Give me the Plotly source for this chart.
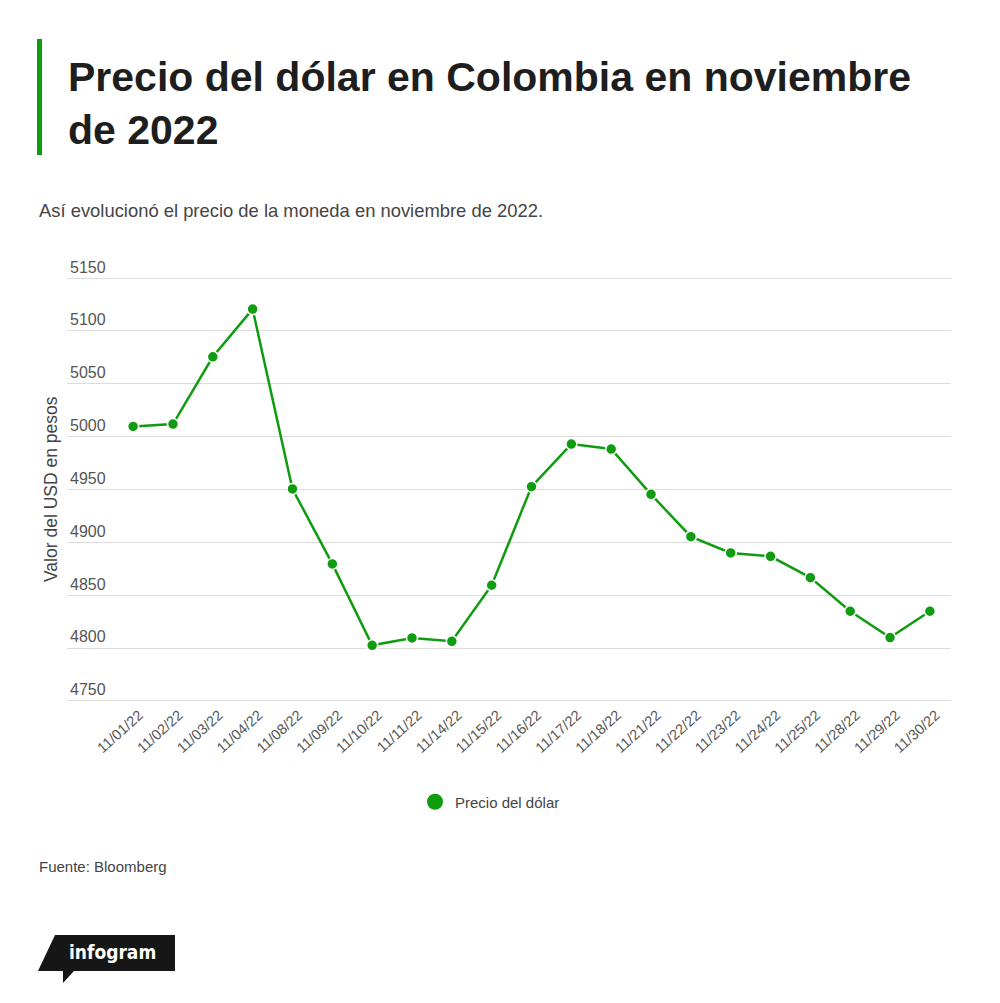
import plotly.graph_objects as go

# precio del dolar, noviembre 2022
fechas = ["11/01/22", "11/02/22", "11/03/22", "11/04/22", "11/08/22", "11/09/22",
          "11/10/22", "11/11/22", "11/14/22", "11/15/22", "11/16/22", "11/17/22",
          "11/18/22", "11/21/22", "11/22/22", "11/23/22", "11/24/22", "11/25/22",
          "11/28/22", "11/29/22", "11/30/22"]
precio = [5009.7, 5011.9, 5075.6, 5120.7, 4950.5, 4879.6, 4802.6, 4809.6, 4806.4,
          4859.4, 4952.7, 4993.0, 4988.3, 4945.4, 4905.4, 4890.0, 4886.8, 4866.6,
          4834.8, 4809.9, 4834.8]
y_ticks = [4750, 4800, 4850, 4900, 4950, 5000, 5050, 5100, 5150]

verde = "#109c10"
fuente = "Liberation Sans"

# la pagina tiene 8px de margen en el body, se descuenta
OFF = 8
W, H = 1000 - OFF, 1003 - OFF
# area de trazado en px de pantalla
PX0, PY0, PW, PH = 67, 703, 884, 446


def p(x, y):
    return (x - PX0) / PW, (PY0 - y) / PH


fig = go.Figure()

fig.add_trace(go.Scatter(
    x=fechas, y=precio, mode="lines+markers", showlegend=False,
    line=dict(color=verde, width=2.5),
    marker=dict(color=verde, size=11, line=dict(color="white", width=1.5)),
))
# solo para la leyenda (circulo)
fig.add_trace(go.Scatter(
    x=[None], y=[None], mode="markers", name="Precio del dólar",
    marker=dict(color=verde, size=16),
))

fig.update_layout(
    width=W, height=H,
    paper_bgcolor="white", plot_bgcolor="white",
    margin=dict(l=PX0 - OFF, r=W - (PX0 - OFF) - PW, t=PY0 - OFF - PH, b=H - (PY0 - OFF)),
    font=dict(family=fuente, color="#444"),
    showlegend=True,
    legend=dict(orientation="h", x=p(490, 0)[0], xanchor="center", y=p(0, 802)[1], yanchor="middle",
                font=dict(size=15, color="#444")),
)

fig.update_xaxes(
    type="category", range=[-1.66, 20.53], automargin=False,
    showgrid=False, zeroline=False, showline=False,
    tickangle=-42, tickfont=dict(size=14.5, color="#555"), ticklabelshift=6,
    ticks="", ticklen=0,
)
fig.update_yaxes(
    range=[4748, 5170], tickvals=y_ticks, automargin=False,
    showgrid=True, gridcolor="#dcdcdc", gridwidth=1,
    zeroline=False, showline=False,
    ticklabelposition="inside top", tickfont=dict(size=16, color="#555"),
)

fig.add_annotation(
    text="Valor del USD en pesos", textangle=-90,
    xref="paper", yref="paper", x=p(51, 0)[0], y=p(0, 489)[1], xanchor="center", yanchor="middle",
    showarrow=False, font=dict(family=fuente, size=17.5, color="#444"),
)

# barra verde del titulo
fig.add_shape(type="rect", xref="paper", yref="paper",
              x0=p(37, 0)[0], x1=p(42, 0)[0], y0=p(0, 39)[1], y1=p(0, 155)[1],
              fillcolor=verde, line=dict(width=0), layer="above")

fig.add_annotation(
    text="<b>Precio del dólar en Colombia en noviembre<br>de 2022</b>",
    xref="paper", yref="paper", x=p(66, 0)[0], y=p(0, 52)[1], xanchor="left", yanchor="top",
    align="left", showarrow=False,
    font=dict(family=fuente, size=41, color="#1e1e1e"),
)
fig.add_annotation(
    text="Así evolucionó el precio de la moneda en noviembre de 2022.",
    xref="paper", yref="paper", x=p(37, 0)[0], y=p(0, 210)[1], xanchor="left", yanchor="middle",
    showarrow=False, font=dict(family=fuente, size=18.4, color="#444"),
)
fig.add_annotation(
    text="Fuente: Bloomberg",
    xref="paper", yref="paper", x=p(37, 0)[0], y=p(0, 866)[1], xanchor="left", yanchor="middle",
    showarrow=False, font=dict(family=fuente, size=15, color="#444"),
)

# logo infogram
pts = [p(55, 935), p(175, 935), p(175, 971), p(74, 971), p(63, 983), p(63, 971), p(38, 971)]
path = "M " + " L ".join(f"{a},{b}" for a, b in pts) + " Z"
fig.add_shape(type="path", xref="paper", yref="paper", path=path,
              fillcolor="#161616", line=dict(width=0), layer="above")
fig.add_annotation(
    text="<b>infogram</b>", xref="paper", yref="paper",
    x=p(112, 0)[0], y=p(0, 952)[1], xanchor="center", yanchor="middle",
    showarrow=False, font=dict(family="DejaVu Sans Condensed, DejaVu Sans", size=19, color="white"),
)

fig.write_html("out.html")
